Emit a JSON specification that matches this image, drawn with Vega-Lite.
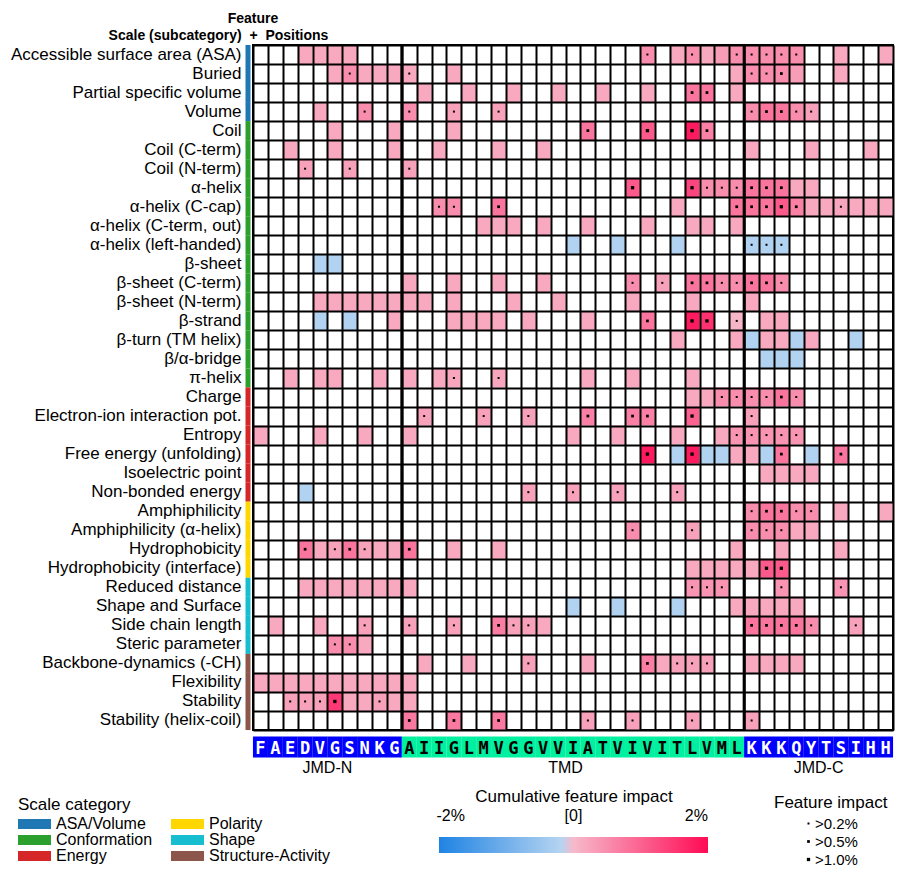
{
"$schema": "https://vega.github.io/schema/vega-lite/v6.json",
"width": 640, "height": 685,
"autosize": {"type": "none"},
"padding": {"left": 253, "top": 45, "right": 10, "bottom": 148},
"background": "white",
"config": {"font": "Liberation Sans", "view": {"stroke": "black", "strokeWidth": 2}, "axis": {"labelColor": "black", "labelFont": "Liberation Sans"}, "legend": {"labelColor": "black", "titleColor": "black", "labelFont": "Liberation Sans", "titleFont": "Liberation Sans"}},
"title": {"text": "Feature", "anchor": "start", "align": "center", "frame": "group", "font": "Liberation Sans", "fontSize": 14, "fontWeight": "bold", "color": "black", "offset": 2},
"datasets": {
"feats": [{"r":1,"f":"Accessible surface area (ASA)","c":"ASA/Volume"},{"r":2,"f":"Buried","c":"ASA/Volume"},{"r":3,"f":"Partial specific volume","c":"ASA/Volume"},{"r":4,"f":"Volume","c":"ASA/Volume"},{"r":5,"f":"Coil","c":"Conformation"},{"r":6,"f":"Coil (C-term)","c":"Conformation"},{"r":7,"f":"Coil (N-term)","c":"Conformation"},{"r":8,"f":"α-helix","c":"Conformation"},{"r":9,"f":"α-helix (C-cap)","c":"Conformation"},{"r":10,"f":"α-helix (C-term, out)","c":"Conformation"},{"r":11,"f":"α-helix (left-handed)","c":"Conformation"},{"r":12,"f":"β-sheet","c":"Conformation"},{"r":13,"f":"β-sheet (C-term)","c":"Conformation"},{"r":14,"f":"β-sheet (N-term)","c":"Conformation"},{"r":15,"f":"β-strand","c":"Conformation"},{"r":16,"f":"β-turn (TM helix)","c":"Conformation"},{"r":17,"f":"β/α-bridge","c":"Conformation"},{"r":18,"f":"π-helix","c":"Conformation"},{"r":19,"f":"Charge","c":"Energy"},{"r":20,"f":"Electron-ion interaction pot.","c":"Energy"},{"r":21,"f":"Entropy","c":"Energy"},{"r":22,"f":"Free energy (unfolding)","c":"Energy"},{"r":23,"f":"Isoelectric point","c":"Energy"},{"r":24,"f":"Non-bonded energy","c":"Energy"},{"r":25,"f":"Amphiphilicity","c":"Polarity"},{"r":26,"f":"Amphiphilicity (α-helix)","c":"Polarity"},{"r":27,"f":"Hydrophobicity","c":"Polarity"},{"r":28,"f":"Hydrophobicity (interface)","c":"Polarity"},{"r":29,"f":"Reduced distance","c":"Shape"},{"r":30,"f":"Shape and Surface","c":"Shape"},{"r":31,"f":"Side chain length","c":"Shape"},{"r":32,"f":"Steric parameter","c":"Shape"},{"r":33,"f":"Backbone-dynamics (-CH)","c":"Structure-Activity"},{"r":34,"f":"Flexibility","c":"Structure-Activity"},{"r":35,"f":"Stability","c":"Structure-Activity"},{"r":36,"f":"Stability (helix-coil)","c":"Structure-Activity"}],
"bounds": [{"b": 10}, {"b": 33}],
"cells": [
{"r":1,"p":4,"v":0.2},{"r":1,"p":5,"v":0.2},{"r":1,"p":6,"v":0.2},{"r":1,"p":7,"v":0.2},{"r":1,"p":27,"v":0.55,"d":">0.2%"},{"r":1,"p":29,"v":0.2},{"r":1,"p":30,"v":0.55,"d":">0.2%"},{"r":1,"p":31,"v":0.2},{"r":1,"p":32,"v":0.35},{"r":1,"p":33,"v":0.55,"d":">0.2%"},{"r":1,"p":34,"v":0.55,"d":">0.2%"},{"r":1,"p":35,"v":0.55,"d":">0.2%"},{"r":1,"p":36,"v":0.55,"d":">0.2%"},{"r":1,"p":37,"v":0.55,"d":">0.2%"},{"r":1,"p":40,"v":0.2},{"r":1,"p":43,"v":0.2},
{"r":2,"p":6,"v":0.2},{"r":2,"p":7,"v":0.55,"d":">0.2%"},{"r":2,"p":8,"v":0.2},{"r":2,"p":9,"v":0.2},{"r":2,"p":10,"v":0.2},{"r":2,"p":11,"v":0.2,"d":">0.2%"},{"r":2,"p":14,"v":0.2},{"r":2,"p":33,"v":0.2},{"r":2,"p":34,"v":0.55,"d":">0.2%"},{"r":2,"p":35,"v":0.55,"d":">0.2%"},{"r":2,"p":36,"v":0.55,"d":">0.5%"},{"r":2,"p":37,"v":0.35},{"r":2,"p":40,"v":0.2},
{"r":3,"p":12,"v":0.2},{"r":3,"p":15,"v":0.2},{"r":3,"p":18,"v":0.2},{"r":3,"p":21,"v":0.2},{"r":3,"p":24,"v":0.2},{"r":3,"p":27,"v":0.2},{"r":3,"p":30,"v":0.85,"d":">0.5%"},{"r":3,"p":31,"v":0.85,"d":">0.5%"},{"r":3,"p":33,"v":0.2},
{"r":4,"p":5,"v":0.2},{"r":4,"p":8,"v":0.55,"d":">0.2%"},{"r":4,"p":11,"v":0.55,"d":">0.2%"},{"r":4,"p":14,"v":0.3,"d":">0.2%"},{"r":4,"p":17,"v":0.3,"d":">0.2%"},{"r":4,"p":34,"v":0.55,"d":">0.2%"},{"r":4,"p":35,"v":0.85,"d":">0.5%"},{"r":4,"p":36,"v":0.85,"d":">0.5%"},{"r":4,"p":37,"v":0.55,"d":">0.2%"},{"r":4,"p":38,"v":0.3,"d":">0.2%"},
{"r":5,"p":6,"v":0.2},{"r":5,"p":10,"v":0.2},{"r":5,"p":14,"v":0.2},{"r":5,"p":23,"v":0.85,"d":">0.5%"},{"r":5,"p":27,"v":1.2,"d":">1.0%"},{"r":5,"p":30,"v":2.0,"d":">1.0%"},{"r":5,"p":31,"v":0.7,"d":">0.5%"},
{"r":6,"p":3,"v":0.2},{"r":6,"p":6,"v":0.2},{"r":6,"p":10,"v":0.2},{"r":6,"p":13,"v":0.2},{"r":6,"p":17,"v":0.2},{"r":6,"p":20,"v":0.2},{"r":6,"p":34,"v":0.2},{"r":6,"p":38,"v":0.2},{"r":6,"p":42,"v":0.2},
{"r":7,"p":4,"v":0.3,"d":">0.2%"},{"r":7,"p":7,"v":0.3,"d":">0.2%"},{"r":7,"p":11,"v":0.3,"d":">0.2%"},
{"r":8,"p":26,"v":1.2,"d":">1.0%"},{"r":8,"p":30,"v":1.45,"d":">1.0%"},{"r":8,"p":31,"v":0.55,"d":">0.2%"},{"r":8,"p":32,"v":0.55,"d":">0.2%"},{"r":8,"p":33,"v":0.55,"d":">0.2%"},{"r":8,"p":34,"v":0.85,"d":">0.5%"},{"r":8,"p":35,"v":0.85,"d":">0.5%"},{"r":8,"p":36,"v":0.85,"d":">0.5%"},{"r":8,"p":37,"v":0.2},{"r":8,"p":38,"v":0.2},
{"r":9,"p":13,"v":0.55,"d":">0.2%"},{"r":9,"p":14,"v":0.55,"d":">0.2%"},{"r":9,"p":17,"v":0.85,"d":">0.5%"},{"r":9,"p":29,"v":0.2},{"r":9,"p":33,"v":0.85,"d":">0.5%"},{"r":9,"p":34,"v":0.85,"d":">0.5%"},{"r":9,"p":35,"v":0.85,"d":">0.5%"},{"r":9,"p":36,"v":1.2,"d":">1.0%"},{"r":9,"p":37,"v":0.7,"d":">0.5%"},{"r":9,"p":38,"v":0.2},{"r":9,"p":39,"v":0.2},{"r":9,"p":40,"v":0.25,"d":">0.2%"},{"r":9,"p":41,"v":0.2},{"r":9,"p":42,"v":0.2},{"r":9,"p":43,"v":0.2},
{"r":10,"p":16,"v":0.2},{"r":10,"p":17,"v":0.2},{"r":10,"p":18,"v":0.2},{"r":10,"p":20,"v":0.2},{"r":10,"p":23,"v":0.2},{"r":10,"p":27,"v":0.2},{"r":10,"p":30,"v":0.2},{"r":10,"p":31,"v":0.2},{"r":10,"p":33,"v":0.2},
{"r":11,"p":22,"v":-0.25},{"r":11,"p":25,"v":-0.25},{"r":11,"p":29,"v":-0.25},{"r":11,"p":34,"v":-0.25,"d":">0.2%"},{"r":11,"p":35,"v":-0.25,"d":">0.2%"},{"r":11,"p":36,"v":-0.25,"d":">0.2%"},
{"r":12,"p":5,"v":-0.25},{"r":12,"p":6,"v":-0.25},
{"r":13,"p":11,"v":0.2},{"r":13,"p":14,"v":0.2},{"r":13,"p":17,"v":0.2},{"r":13,"p":20,"v":0.2},{"r":13,"p":26,"v":0.55,"d":">0.2%"},{"r":13,"p":28,"v":0.3,"d":">0.2%"},{"r":13,"p":30,"v":0.85,"d":">0.5%"},{"r":13,"p":31,"v":0.85,"d":">0.5%"},{"r":13,"p":32,"v":0.55,"d":">0.2%"},{"r":13,"p":33,"v":0.55,"d":">0.2%"},{"r":13,"p":34,"v":0.85,"d":">0.5%"},{"r":13,"p":35,"v":0.85,"d":">0.5%"},{"r":13,"p":36,"v":0.55,"d":">0.2%"},
{"r":14,"p":5,"v":0.2},{"r":14,"p":6,"v":0.2},{"r":14,"p":7,"v":0.2},{"r":14,"p":8,"v":0.2},{"r":14,"p":9,"v":0.2},{"r":14,"p":10,"v":0.2},{"r":14,"p":11,"v":0.2},{"r":14,"p":12,"v":0.2},{"r":14,"p":14,"v":0.2},{"r":14,"p":18,"v":0.2},{"r":14,"p":21,"v":0.2},{"r":14,"p":26,"v":0.2},{"r":14,"p":30,"v":0.2},{"r":14,"p":34,"v":0.2},
{"r":15,"p":5,"v":-0.25},{"r":15,"p":7,"v":-0.25},{"r":15,"p":10,"v":0.2},{"r":15,"p":14,"v":0.2},{"r":15,"p":15,"v":0.2},{"r":15,"p":16,"v":0.2},{"r":15,"p":17,"v":0.2},{"r":15,"p":19,"v":0.2},{"r":15,"p":23,"v":0.2},{"r":15,"p":27,"v":0.85,"d":">0.5%"},{"r":15,"p":30,"v":2.0,"d":">1.0%"},{"r":15,"p":31,"v":1.7,"d":">1.0%"},{"r":15,"p":33,"v":0.05,"d":">0.2%"},{"r":15,"p":35,"v":0.2},{"r":15,"p":36,"v":0.2},
{"r":16,"p":29,"v":0.2},{"r":16,"p":33,"v":0.2},{"r":16,"p":34,"v":-0.25},{"r":16,"p":35,"v":0.2},{"r":16,"p":36,"v":0.2},{"r":16,"p":37,"v":-0.25},{"r":16,"p":38,"v":0.2},{"r":16,"p":41,"v":-0.25},
{"r":17,"p":35,"v":-0.25},{"r":17,"p":36,"v":-0.25},{"r":17,"p":37,"v":-0.25},
{"r":18,"p":3,"v":0.2},{"r":18,"p":5,"v":0.2},{"r":18,"p":6,"v":0.2},{"r":18,"p":9,"v":0.2},{"r":18,"p":11,"v":0.2},{"r":18,"p":13,"v":0.2},{"r":18,"p":14,"v":0.25,"d":">0.2%"},{"r":18,"p":17,"v":0.25,"d":">0.2%"},{"r":18,"p":23,"v":0.2},{"r":18,"p":26,"v":0.2},{"r":18,"p":30,"v":0.2},
{"r":19,"p":30,"v":0.2},{"r":19,"p":31,"v":0.2},{"r":19,"p":32,"v":0.55,"d":">0.2%"},{"r":19,"p":33,"v":0.55,"d":">0.2%"},{"r":19,"p":34,"v":0.55,"d":">0.2%"},{"r":19,"p":35,"v":0.55,"d":">0.2%"},{"r":19,"p":36,"v":0.85,"d":">0.5%"},{"r":19,"p":37,"v":0.55,"d":">0.2%"},
{"r":20,"p":12,"v":0.3,"d":">0.2%"},{"r":20,"p":16,"v":0.3,"d":">0.2%"},{"r":20,"p":19,"v":0.3,"d":">0.2%"},{"r":20,"p":23,"v":0.7,"d":">0.5%"},{"r":20,"p":26,"v":0.7,"d":">0.5%"},{"r":20,"p":27,"v":0.7,"d":">0.5%"},{"r":20,"p":30,"v":1.1,"d":">1.0%"},{"r":20,"p":34,"v":0.3,"d":">0.2%"},
{"r":21,"p":1,"v":0.2},{"r":21,"p":5,"v":0.2},{"r":21,"p":8,"v":0.2},{"r":21,"p":11,"v":0.2},{"r":21,"p":22,"v":0.2},{"r":21,"p":25,"v":0.2},{"r":21,"p":29,"v":0.2},{"r":21,"p":32,"v":0.2},{"r":21,"p":33,"v":0.45,"d":">0.2%"},{"r":21,"p":34,"v":0.45,"d":">0.2%"},{"r":21,"p":35,"v":0.45,"d":">0.2%"},{"r":21,"p":36,"v":0.45,"d":">0.2%"},{"r":21,"p":37,"v":0.45,"d":">0.2%"},
{"r":22,"p":27,"v":2.0,"d":">1.0%"},{"r":22,"p":29,"v":-0.25},{"r":22,"p":30,"v":2.0,"d":">1.0%"},{"r":22,"p":31,"v":-0.25},{"r":22,"p":32,"v":-0.25},{"r":22,"p":33,"v":0.2},{"r":22,"p":34,"v":0.2},{"r":22,"p":35,"v":-0.25},{"r":22,"p":36,"v":0.85,"d":">0.5%"},{"r":22,"p":38,"v":-0.25},{"r":22,"p":40,"v":0.85,"d":">0.5%"},
{"r":23,"p":35,"v":0.2},{"r":23,"p":36,"v":0.2},{"r":23,"p":37,"v":0.2},{"r":23,"p":38,"v":0.2},
{"r":24,"p":4,"v":-0.25},{"r":24,"p":19,"v":0.3,"d":">0.2%"},{"r":24,"p":22,"v":0.3,"d":">0.2%"},{"r":24,"p":25,"v":0.3,"d":">0.2%"},{"r":24,"p":29,"v":0.3,"d":">0.2%"},
{"r":25,"p":34,"v":0.55,"d":">0.2%"},{"r":25,"p":35,"v":0.85,"d":">0.5%"},{"r":25,"p":36,"v":0.85,"d":">0.5%"},{"r":25,"p":37,"v":0.55,"d":">0.2%"},{"r":25,"p":38,"v":0.55,"d":">0.2%"},{"r":25,"p":40,"v":0.2},{"r":25,"p":43,"v":0.2},
{"r":26,"p":26,"v":0.55,"d":">0.2%"},{"r":26,"p":30,"v":0.3,"d":">0.2%"},{"r":26,"p":34,"v":0.55,"d":">0.2%"},{"r":26,"p":35,"v":0.55,"d":">0.2%"},{"r":26,"p":36,"v":0.55,"d":">0.2%"},{"r":26,"p":37,"v":0.2},{"r":26,"p":38,"v":0.2},
{"r":27,"p":4,"v":0.85,"d":">0.5%"},{"r":27,"p":5,"v":0.2},{"r":27,"p":6,"v":0.3,"d":">0.2%"},{"r":27,"p":7,"v":0.85,"d":">0.5%"},{"r":27,"p":8,"v":0.3,"d":">0.2%"},{"r":27,"p":9,"v":0.2},{"r":27,"p":10,"v":0.2},{"r":27,"p":11,"v":0.85,"d":">0.5%"},{"r":27,"p":14,"v":0.2},{"r":27,"p":17,"v":0.2},{"r":27,"p":33,"v":0.2},{"r":27,"p":36,"v":0.2},{"r":27,"p":40,"v":0.2},
{"r":28,"p":30,"v":0.2},{"r":28,"p":31,"v":0.2},{"r":28,"p":32,"v":0.2},{"r":28,"p":33,"v":0.2},{"r":28,"p":34,"v":0.2},{"r":28,"p":35,"v":1.2,"d":">1.0%"},{"r":28,"p":36,"v":1.2,"d":">1.0%"},
{"r":29,"p":4,"v":0.2},{"r":29,"p":5,"v":0.2},{"r":29,"p":6,"v":0.2},{"r":29,"p":7,"v":0.2},{"r":29,"p":8,"v":0.2},{"r":29,"p":9,"v":0.2},{"r":29,"p":10,"v":0.2},{"r":29,"p":11,"v":0.2},{"r":29,"p":30,"v":0.45,"d":">0.2%"},{"r":29,"p":31,"v":0.45,"d":">0.2%"},{"r":29,"p":32,"v":0.45,"d":">0.2%"},{"r":29,"p":36,"v":0.45,"d":">0.2%"},{"r":29,"p":40,"v":0.45,"d":">0.2%"},
{"r":30,"p":22,"v":-0.25},{"r":30,"p":25,"v":-0.25},{"r":30,"p":29,"v":-0.25},{"r":30,"p":33,"v":0.2},{"r":30,"p":34,"v":0.2},{"r":30,"p":35,"v":0.2},{"r":30,"p":36,"v":0.2},{"r":30,"p":37,"v":0.2},
{"r":31,"p":2,"v":0.2},{"r":31,"p":5,"v":0.2},{"r":31,"p":8,"v":0.3,"d":">0.2%"},{"r":31,"p":11,"v":0.3,"d":">0.2%"},{"r":31,"p":14,"v":0.3,"d":">0.2%"},{"r":31,"p":17,"v":0.75,"d":">0.5%"},{"r":31,"p":18,"v":0.3,"d":">0.2%"},{"r":31,"p":19,"v":0.3,"d":">0.2%"},{"r":31,"p":20,"v":0.2},{"r":31,"p":34,"v":0.85,"d":">0.5%"},{"r":31,"p":35,"v":0.85,"d":">0.5%"},{"r":31,"p":36,"v":0.85,"d":">0.5%"},{"r":31,"p":37,"v":0.85,"d":">0.5%"},{"r":31,"p":38,"v":0.55,"d":">0.2%"},{"r":31,"p":41,"v":0.3,"d":">0.2%"},
{"r":32,"p":6,"v":0.55,"d":">0.2%"},{"r":32,"p":7,"v":0.55,"d":">0.2%"},{"r":32,"p":8,"v":0.2},
{"r":33,"p":12,"v":0.2},{"r":33,"p":15,"v":0.2},{"r":33,"p":19,"v":0.3,"d":">0.2%"},{"r":33,"p":23,"v":0.2},{"r":33,"p":27,"v":0.75,"d":">0.5%"},{"r":33,"p":28,"v":0.2},{"r":33,"p":29,"v":0.3,"d":">0.2%"},{"r":33,"p":30,"v":0.3,"d":">0.2%"},{"r":33,"p":31,"v":0.3,"d":">0.2%"},{"r":33,"p":34,"v":0.2},{"r":33,"p":35,"v":0.2},{"r":33,"p":36,"v":0.2},{"r":33,"p":37,"v":0.2},
{"r":34,"p":1,"v":0.2},{"r":34,"p":2,"v":0.2},{"r":34,"p":3,"v":0.2},{"r":34,"p":4,"v":0.2},{"r":34,"p":5,"v":0.2},{"r":34,"p":6,"v":0.2},{"r":34,"p":7,"v":0.2},{"r":34,"p":8,"v":0.2},{"r":34,"p":9,"v":0.2},{"r":34,"p":10,"v":0.2},{"r":34,"p":11,"v":0.2},
{"r":35,"p":3,"v":0.3,"d":">0.2%"},{"r":35,"p":4,"v":0.3,"d":">0.2%"},{"r":35,"p":5,"v":0.3,"d":">0.2%"},{"r":35,"p":6,"v":1.6,"d":">1.0%"},{"r":35,"p":7,"v":0.2},{"r":35,"p":8,"v":0.2},{"r":35,"p":9,"v":0.3,"d":">0.2%"},{"r":35,"p":10,"v":0.2},{"r":35,"p":11,"v":0.2},
{"r":36,"p":11,"v":0.8,"d":">0.5%"},{"r":36,"p":14,"v":0.8,"d":">0.5%"},{"r":36,"p":17,"v":0.8,"d":">0.5%"},{"r":36,"p":23,"v":0.3,"d":">0.2%"},{"r":36,"p":26,"v":0.3,"d":">0.2%"},{"r":36,"p":30,"v":0.3,"d":">0.2%"},{"r":36,"p":34,"v":0.3,"d":">0.2%"}
]
},
"layer": [
{
"data": {"name": "cells"},
"transform": [{"lookup": "r", "from": {"data": {"name": "feats"}, "key": "r", "fields": ["f"]}}],
"mark": {"type": "rect"},
"encoding": {
"x": {"field": "p", "type": "ordinal", "scale": {"domain": [1,2,3,4,5,6,7,8,9,10,11,12,13,14,15,16,17,18,19,20,21,22,23,24,25,26,27,28,29,30,31,32,33,34,35,36,37,38,39,40,41,42,43], "paddingInner": 0, "paddingOuter": 0},
 "axis": {"orient": "bottom", "offset": 6, "domain": false, "grid": false, "ticks": true, "tickSize": 21, "tickWidth": 15, "tickRound": false, "tickBand": "center",
  "tickColor": {"condition": {"test": "datum.value <= 10 || datum.value >= 34", "value": "#0000ff"}, "value": "#00f0a0"},
  "labelExpr": "substring('FAEDVGSNKGAIIGLMVGGVVIATVIVITLVMLKKKQYTSIHH', datum.value - 1, datum.value)",
  "labelColor": {"condition": {"test": "datum.value <= 10 || datum.value >= 34", "value": "white"}, "value": "black"},
  "labelFont": "DejaVu Sans Mono", "labelFontWeight": "bold", "labelFontSize": 17, "labelAngle": 0, "labelBaseline": "alphabetic", "labelPadding": -4, "labelOverlap": false, "labelBound": false, "title": null}},
"y": {"field": "f", "type": "nominal", "scale": {"domain": ["Accessible surface area (ASA)","Buried","Partial specific volume","Volume","Coil","Coil (C-term)","Coil (N-term)","α-helix","α-helix (C-cap)","α-helix (C-term, out)","α-helix (left-handed)","β-sheet","β-sheet (C-term)","β-sheet (N-term)","β-strand","β-turn (TM helix)","β/α-bridge","π-helix","Charge","Electron-ion interaction pot.","Entropy","Free energy (unfolding)","Isoelectric point","Non-bonded energy","Amphiphilicity","Amphiphilicity (α-helix)","Hydrophobicity","Hydrophobicity (interface)","Reduced distance","Shape and Surface","Side chain length","Steric parameter","Backbone-dynamics (-CH)","Flexibility","Stability","Stability (helix-coil)"], "paddingInner": 0, "paddingOuter": 0},
 "axis": {"orient": "left", "offset": 3, "domain": false, "grid": false, "ticks": true, "tickSize": 5, "tickWidth": 19.1, "tickRound": false,
  "tickColor": {"condition": [
   {"test": "datum.value == 'Accessible surface area (ASA)' || datum.value == 'Buried' || datum.value == 'Partial specific volume' || datum.value == 'Volume'", "value": "#1f77b4"},
   {"test": "datum.value == 'Charge' || datum.value == 'Electron-ion interaction pot.' || datum.value == 'Entropy' || datum.value == 'Free energy (unfolding)' || datum.value == 'Isoelectric point' || datum.value == 'Non-bonded energy'", "value": "#d62728"},
   {"test": "datum.value == 'Amphiphilicity' || datum.value == 'Amphiphilicity (α-helix)' || datum.value == 'Hydrophobicity' || datum.value == 'Hydrophobicity (interface)'", "value": "#ffd700"},
   {"test": "datum.value == 'Reduced distance' || datum.value == 'Shape and Surface' || datum.value == 'Side chain length' || datum.value == 'Steric parameter'", "value": "#17becf"},
   {"test": "datum.value == 'Backbone-dynamics (-CH)' || datum.value == 'Flexibility' || datum.value == 'Stability' || datum.value == 'Stability (helix-coil)'", "value": "#8c564b"}
  ], "value": "#2ca02c"},
  "labelFontSize": 17, "labelPadding": 4, "labelLimit": 400, "title": null}},
"color": {"field": "v", "type": "quantitative",
 "scale": {"type": "linear", "domain": [-2.19, -0.001, 0, 2.19], "range": ["#1f83e3", "#c4dcf2", "#f7b9cb", "#ff0b55"], "interpolate": "rgb", "clamp": true},
 "legend": {"orient": "none", "legendX": 186, "legendY": 744, "direction": "horizontal", "gradientLength": 269, "gradientThickness": 16, "gradientStrokeWidth": 0, "title": "Cumulative feature impact", "titleLimit": 400, "titleFontSize": 17, "titleFontWeight": "normal", "titleAnchor": "middle", "titlePadding": 31, "values": [-2, 0, 2], "labelExpr": "datum.value == 0 ? '[0]' : datum.value < 0 ? '-2%' : '2%'", "labelFontSize": 16, "labelOffset": -45}}
}
},
{
"data": {"name": "cells"},
"transform": [{"lookup": "r", "from": {"data": {"name": "feats"}, "key": "r", "fields": ["f"]}}, {"filter": "isValid(datum.d)"}],
"mark": {"type": "point", "shape": "square", "filled": true, "color": "black", "opacity": 1},
"encoding": {
"x": {"field": "p", "type": "ordinal", "scale": {"domain": [1,2,3,4,5,6,7,8,9,10,11,12,13,14,15,16,17,18,19,20,21,22,23,24,25,26,27,28,29,30,31,32,33,34,35,36,37,38,39,40,41,42,43]},
 "axis": {"orient": "top", "domain": false, "ticks": false, "labels": false, "grid": true, "gridColor": "black", "gridWidth": 2, "gridOpacity": 1, "tickBand": "extent", "zindex": 1,
  "title": "Scale (subcategory)\u00a0\u00a0+\u00a0\u00a0Positions", "titleX": -35, "titleY": -10, "titleAlign": "center", "titleBaseline": "middle", "titleAngle": 0, "titleFont": "Liberation Sans", "titleFontSize": 14, "titleFontWeight": "bold", "titleColor": "black"}},
"y": {"field": "f", "type": "nominal", "scale": {"domain": ["Accessible surface area (ASA)","Buried","Partial specific volume","Volume","Coil","Coil (C-term)","Coil (N-term)","α-helix","α-helix (C-cap)","α-helix (C-term, out)","α-helix (left-handed)","β-sheet","β-sheet (C-term)","β-sheet (N-term)","β-strand","β-turn (TM helix)","β/α-bridge","π-helix","Charge","Electron-ion interaction pot.","Entropy","Free energy (unfolding)","Isoelectric point","Non-bonded energy","Amphiphilicity","Amphiphilicity (α-helix)","Hydrophobicity","Hydrophobicity (interface)","Reduced distance","Shape and Surface","Side chain length","Steric parameter","Backbone-dynamics (-CH)","Flexibility","Stability","Stability (helix-coil)"]},
 "axis": {"orient": "right", "domain": false, "ticks": false, "labels": false, "grid": true, "gridColor": "black", "gridWidth": 2, "gridOpacity": 1, "tickBand": "extent", "title": null, "zindex": 1}},
"size": {"field": "d", "type": "ordinal", "scale": {"domain": [">0.2%", ">0.5%", ">1.0%"], "range": [4, 11, 25]},
 "legend": {"orient": "none", "legendX": 521, "legendY": 750, "title": "Feature impact", "titleFontSize": 17, "titleFontWeight": "normal", "symbolType": "square", "symbolFillColor": "black", "symbolStrokeWidth": 0, "labelFontSize": 15, "rowPadding": 2, "symbolOffset": 27, "labelOffset": -1, "titlePadding": 4}}
}
},
{
"data": {"name": "feats"},
"mark": {"type": "point", "filled": true, "size": 0, "opacity": 1},
"encoding": {
"y": {"field": "f", "type": "nominal", "axis": null},
"color": {"field": "c", "type": "nominal", "scale": {"domain": ["ASA/Volume", "Conformation", "Energy", "Polarity", "Shape", "Structure-Activity"], "range": ["#1f77b4", "#2ca02c", "#d62728", "#ffd700", "#17becf", "#8c564b"]},
 "legend": {"orient": "none", "legendX": -235, "legendY": 752, "title": "Scale category", "titleFontSize": 17, "titleFontWeight": "normal", "titlePadding": 2, "columns": 2, "columnPadding": 18, "rowPadding": 0, "clipHeight": 16, "symbolType": "M-1,-0.3H1V0.3H-1Z", "symbolSize": 1089, "symbolStrokeWidth": 0, "symbolOpacity": 1, "labelFontSize": 16, "labelOffset": 5}}
}
},
{
"data": {"name": "bounds"},
"mark": {"type": "rule", "color": "black", "strokeWidth": 3},
"encoding": {
"x": {"field": "b", "type": "ordinal", "bandPosition": 1, "scale": {"domain": [1,2,3,4,5,6,7,8,9,10,11,12,13,14,15,16,17,18,19,20,21,22,23,24,25,26,27,28,29,30,31,32,33,34,35,36,37,38,39,40,41,42,43]},
 "axis": {"orient": "bottom", "offset": 30, "domain": false, "ticks": false, "tickSize": 0, "grid": false, "values": [5, 21, 38], "labelExpr": "datum.value == 5 ? 'JMD-N' : datum.value == 21 ? 'TMD' : 'JMD-C'", "labelOffset": 7.44, "labelFontSize": 16, "labelPadding": 7, "labelBaseline": "middle", "labelAngle": 0, "title": null}}
}
}
],
"resolve": {"scale": {"color": "independent"}, "axis": {"x": "independent", "y": "independent"}}
}
